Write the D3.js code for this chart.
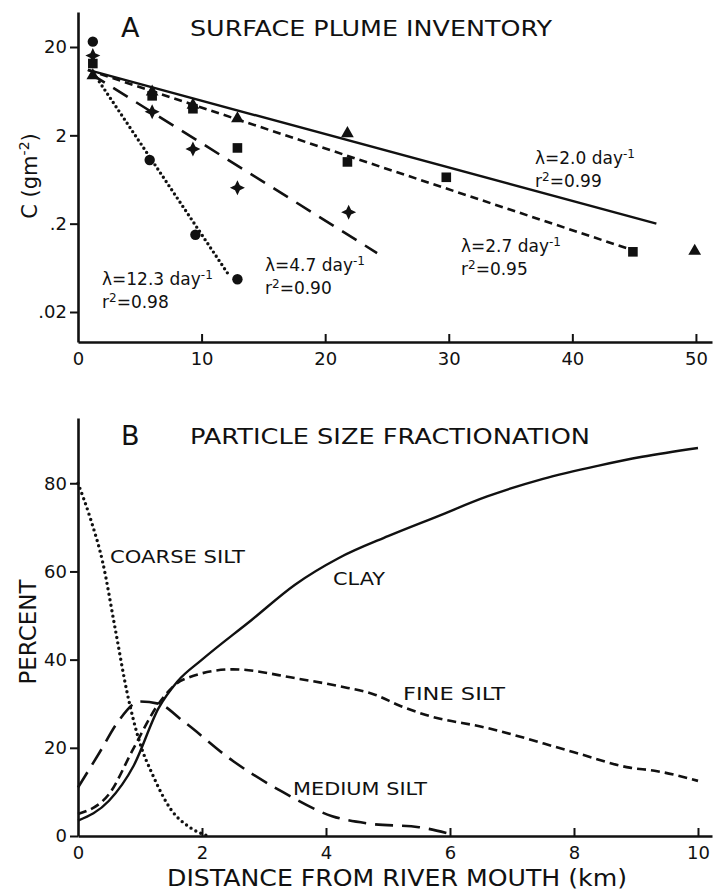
<!DOCTYPE html>
<html>
<head>
<meta charset="utf-8">
<script src="https://cdn.jsdelivr.net/npm/d3@7"></script>
<style>
body { margin: 0; background: #fff; }
svg { display: block; font-family: "DejaVu Sans", sans-serif; }
</style>
</head>
<body>
<svg width="716" height="892"></svg>
<script>
"use strict";
// ---- panel A : surface plume inventory, C (g m-2) vs distance (km)
var circlePts   = [[1.2, 23], [5.8, 1.05], [9.5, 0.15], [12.9, 0.047]];
var starPts     = [[1.2, 16], [6.0, 3.7], [9.3, 1.4], [12.9, 0.51], [21.9, 0.27]];
var squarePts   = [[1.2, 13], [6.0, 5.6], [9.3, 4.0], [12.9, 1.44], [21.8, 1.0], [29.8, 0.67], [44.9, 0.096]];
var trianglePts = [[1.2, 9.5], [6.0, 6.2], [9.3, 4.4], [12.9, 3.1], [21.8, 2.1], [49.9, 0.098]];

// regression lines (end points)
var fit123 = [[1.5, 9], [12.3, 0.05]];
var fit47  = [[1.0, 10], [24.2, 0.093]];
var fit27  = [[0.8, 11], [44.9, 0.1]];
var fit20  = [[0.8, 11], [46.8, 0.2]];

var lambdaVals = ["12.3", "4.7", "2.7", "2.0"];
var r2Vals     = ["0.98", "0.90", "0.95", "0.99"];

var aXTicks  = [0, 10, 20, 30, 40, 50];
var aYTicks  = [0.02, 0.2, 2, 20];
var aYLabels = [".02", ".2", "2", "20"];

// ---- panel B : particle size fractionation, percent vs distance (km)
var coarseSilt = [[0, 80], [0.2, 72], [0.4, 62], [0.6, 47], [0.8, 32], [1.0, 21], [1.2, 14], [1.5, 6], [1.8, 2], [2.1, 0]];
var mediumSilt = [[0, 11], [0.35, 19], [0.65, 26], [1.0, 30.5], [1.3, 30], [1.7, 26], [2.5, 17], [3.3, 10], [4.1, 4.5], [4.7, 2.8], [5.5, 2], [6.0, 0.5]];
var fineSilt   = [[0, 5], [0.5, 9.5], [0.9, 20], [1.3, 30], [1.7, 35.5], [2.5, 37.8], [3.5, 35.8], [4.2, 34], [4.8, 32], [5.2, 29.5], [5.6, 27.5], [6.6, 24.5], [8, 19], [8.9, 15.5], [9.3, 14.8], [10, 12.5]];
var clay       = [[0, 3.5], [0.5, 8], [0.9, 16], [1.3, 29], [1.6, 35], [2, 40], [2.8, 49], [3.5, 57], [4.2, 63], [5, 68], [5.8, 72.5], [6.6, 77], [7.5, 81], [8.4, 84], [9.1, 86], [10, 88]];

var bXTicks = [0, 2, 4, 6, 8, 10];
var bYTicks = [0, 20, 40, 60, 80];

var svg = d3.select("svg");

// scales
var xA = d3.scaleLinear().domain([0, 51.3]).range([78, 712]);
var yA = d3.scaleLog().domain([0.00915, 49.8]).range([342, 12]);
var xB = d3.scaleLinear().domain([0, 10.226]).range([78, 712]);
var yB = d3.scaleLinear().domain([0, 94.8]).range([836, 418]);

function axes(x, y, xTicks, yTicks, yFmt, xFmt) {
    var gx = svg.append("g").attr("transform", "translate(0," + y.range()[0] + ")")
        .call(d3.axisBottom(x).tickValues(xTicks).tickFormat(xFmt).tickSize(-8).tickSizeOuter(0).tickPadding(10));
    var gy = svg.append("g").attr("transform", "translate(" + x.range()[0] + ",0)")
        .call(d3.axisLeft(y).tickValues(yTicks).tickFormat(yFmt).tickSize(8).tickSizeOuter(0).tickPadding(3));
    [gx, gy].forEach(function (g) {
        g.select(".domain").attr("stroke", "#111").attr("stroke-width", 2.6);
        g.selectAll(".tick line").attr("stroke", "#111").attr("stroke-width", 2);
        g.selectAll(".tick text").attr("font-family", "DejaVu Sans").attr("font-size", 18).attr("fill", "#111");
    });
    gx.selectAll(".tick").filter(function (d) { return d === 0; }).select("line").remove();
}

axes(xA, yA, aXTicks, aYTicks, function (d, i) { return aYLabels[i]; }, d3.format("d"));
axes(xB, yB, bXTicks, bYTicks, d3.format("d"), d3.format("d"));

// ---- panel A marks
var lineA = d3.line().x(function (d) { return xA(d[0]); }).y(function (d) { return yA(d[1]); });
var fits = [
    { pts: fit20,  dash: null,    w: 2.4, cap: "butt" },
    { pts: fit27,  dash: "8,5",   w: 2.6, cap: "butt" },
    { pts: fit47,  dash: "17,10", w: 2.6, cap: "butt" },
    { pts: fit123, dash: "0,5",   w: 3.4, cap: "round" }
];
svg.append("g").selectAll("path").data(fits).enter().append("path")
    .attr("d", function (d) { return lineA(d.pts); })
    .attr("fill", "none").attr("stroke", "#111")
    .attr("stroke-width", function (d) { return d.w; })
    .attr("stroke-linecap", function (d) { return d.cap; })
    .attr("stroke-dasharray", function (d) { return d.dash; });

function star4(r, ri) {
    var p = [];
    for (var i = 0; i < 8; i++) {
        var a = i * Math.PI / 4 - Math.PI / 2;
        var rr = i % 2 === 0 ? r : ri;
        p.push([Math.cos(a) * rr, Math.sin(a) * rr]);
    }
    return "M" + p.join("L") + "Z";
}
var marks = svg.append("g").attr("fill", "#111");
marks.selectAll("circle").data(circlePts).enter().append("circle")
    .attr("cx", function (d) { return xA(d[0]); }).attr("cy", function (d) { return yA(d[1]); }).attr("r", 5.2);
marks.selectAll("rect").data(squarePts).enter().append("rect")
    .attr("x", function (d) { return xA(d[0]) - 4.8; }).attr("y", function (d) { return yA(d[1]) - 4.8; })
    .attr("width", 9.6).attr("height", 9.6);
marks.selectAll("path.tri").data(trianglePts).enter().append("path").attr("class", "tri")
    .attr("d", d3.symbol(d3.symbolTriangle, 70))
    .attr("transform", function (d) { return "translate(" + xA(d[0]) + "," + yA(d[1]) + ")"; });
marks.selectAll("path.star").data(starPts).enter().append("path").attr("class", "star")
    .attr("d", star4(7.5, 3.4))
    .attr("transform", function (d) { return "translate(" + xA(d[0]) + "," + yA(d[1]) + ")"; });

// lambda / r2 annotations
var annotXY = [[102, 285], [265, 271], [461, 252], [535, 164]];
lambdaVals.forEach(function (lam, i) {
    var g = svg.append("g").attr("font-size", 17).attr("fill", "#111");
    var t = g.append("text").attr("x", annotXY[i][0]).attr("y", annotXY[i][1]);
    t.append("tspan").text("\u03bb=" + lam + " day");
    t.append("tspan").attr("dy", -6).attr("font-size", 12).text("-1");
    var t2 = g.append("text").attr("x", annotXY[i][0]).attr("y", annotXY[i][1] + 23);
    t2.append("tspan").text("r");
    t2.append("tspan").attr("dy", -6).attr("font-size", 12).text("2");
    t2.append("tspan").attr("dy", 6).text("=" + r2Vals[i]);
});

// ---- panel B curves
var lineB = d3.line().curve(d3.curveMonotoneX).x(function (d) { return xB(d[0]); }).y(function (d) { return yB(d[1]); });
var curves = [
    { pts: clay,       dash: null,    w: 2.4, cap: "butt" },
    { pts: fineSilt,   dash: "9,5",   w: 2.6, cap: "butt" },
    { pts: mediumSilt, dash: "18,9",  w: 2.6, cap: "butt" },
    { pts: coarseSilt, dash: "0,5.5", w: 3.4, cap: "round" }
];
svg.append("g").selectAll("path").data(curves).enter().append("path")
    .attr("d", function (d) { return lineB(d.pts); })
    .attr("fill", "none").attr("stroke", "#111")
    .attr("stroke-width", function (d) { return d.w; })
    .attr("stroke-linecap", function (d) { return d.cap; })
    .attr("stroke-dasharray", function (d) { return d.dash; });

// ---- titles and labels
var txt = svg.append("g").attr("fill", "#111");
function label(x, y, s, size, len) {
    var t = txt.append("text").attr("x", x).attr("y", y).attr("font-size", size).text(s);
    if (len) t.attr("textLength", len).attr("lengthAdjust", "spacingAndGlyphs");
    return t;
}
label(121, 37, "A", 27);
label(190, 36, "SURFACE PLUME INVENTORY", 21, 362);
label(121, 445, "B", 27);
label(190, 444, "PARTICLE SIZE FRACTIONATION", 22, 400);
label(110, 563, "COARSE SILT", 18, 135);
label(333, 585, "CLAY", 18, 52);
label(403, 700, "FINE SILT", 18, 102);
label(293, 795, "MEDIUM SILT", 18, 134);
label(167, 886, "DISTANCE FROM RIVER MOUTH (km)", 23, 460);

txt.append("text").attr("transform", "translate(36,632) rotate(-90)")
    .attr("text-anchor", "middle").attr("font-size", 23).text("PERCENT");
var cy = txt.append("text").attr("transform", "translate(37,176) rotate(-90)")
    .attr("text-anchor", "middle").attr("font-size", 21);
cy.append("tspan").text("C (gm");
cy.append("tspan").attr("dy", -8).attr("font-size", 14).text("-2");
cy.append("tspan").attr("dy", 8).text(")");
</script>
</body>
</html>
